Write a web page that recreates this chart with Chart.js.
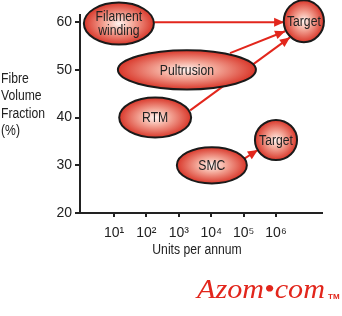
<!DOCTYPE html>
<html lang="en">
<head>
  <meta charset="UTF-8">
  <title>Fibre volume fraction vs units per annum</title>
  <script src="https://cdn.jsdelivr.net/npm/chart.js"></script>
  <style>
    html, body { margin: 0; padding: 0; background: #fff; }
    #box { width: 342px; height: 316px; }
  </style>
</head>
<body>
  <div id="box"><canvas id="grafico"></canvas></div>
  <script>
    // x values are log10(units per annum), y values are fibre volume fraction (%)
    const processLabels = ['Filament\nwinding', 'Target', 'Pultrusion', 'RTM', 'Target', 'SMC'];
    const processLogUnits = [1.15, 6.86, 3.25, 2.27, 6.0, 4.02];
    const processFraction = [59.7, 60.2, 50.0, 40.0, 35.3, 30.0];
    const processHalfWidth = [1.08, 0.62, 2.13, 1.11, 0.65, 1.08];   // in decades
    const processHalfHeight = [4.4, 4.4, 4.1, 4.2, 4.2, 3.8];        // in %

    const arrowFromX = [2.23, 4.58, 3.35, 4.95];
    const arrowFromY = [60.0, 53.5, 41.5, 31.1];
    const arrowToX = [6.25, 6.28, 6.43, 5.44];
    const arrowToY = [60.0, 58.1, 56.8, 33.2];

    const xTickValues = [1, 2, 3, 4, 5, 6];
    const yTickValues = [20, 30, 40, 50, 60];
    const supers = ['⁰', '¹', '²', '³', '⁴', '⁵', '⁶', '⁷'];

    const ink = '#222';
    const red = '#e2261c';
    const sans = '"Liberation Sans", Arial, sans-serif';

    // the original lettering is a narrow sans, so squeeze it a little
    function narrowText(ctx, t, x, y) {
      ctx.fillText(t, x, y, ctx.measureText(t).width * 0.87);
    }

    const arrowSets = arrowFromX.map((x0, i) => ({
      data: [{ x: x0, y: arrowFromY[i] }, { x: arrowToX[i], y: arrowToY[i] }],
      showLine: true,
      borderColor: red,
      backgroundColor: red,
      borderWidth: 2,
      pointRadius: 0
    }));

    const desenho = {
      id: 'desenho',
      afterDatasetsDraw(chart) {
        const ctx = chart.ctx;
        const sx = chart.scales.x, sy = chart.scales.y;

        // arrow heads
        arrowFromX.forEach((x0, i) => {
          const ax = sx.getPixelForValue(x0), ay = sy.getPixelForValue(arrowFromY[i]);
          const bx = sx.getPixelForValue(arrowToX[i]), by = sy.getPixelForValue(arrowToY[i]);
          const ang = Math.atan2(by - ay, bx - ax);
          ctx.save();
          ctx.translate(bx, by);
          ctx.rotate(ang);
          ctx.fillStyle = red;
          ctx.beginPath();
          ctx.moveTo(0, 0);
          ctx.lineTo(-10, -4.5);
          ctx.lineTo(-10, 4.5);
          ctx.closePath();
          ctx.fill();
          ctx.restore();
        });

        // process ellipses
        processLabels.forEach((lab, i) => {
          const cx = sx.getPixelForValue(processLogUnits[i]);
          const cy = sy.getPixelForValue(processFraction[i]);
          const rx = Math.abs(sx.getPixelForValue(processLogUnits[i] + processHalfWidth[i]) - cx);
          const ry = Math.abs(sy.getPixelForValue(processFraction[i] + processHalfHeight[i]) - cy);
          ctx.save();
          ctx.translate(cx, cy);
          ctx.scale(1, ry / rx);
          const g = ctx.createRadialGradient(0, 0, 0, 0, 0, rx);
          g.addColorStop(0, '#fff4f0');
          g.addColorStop(0.4, '#f4aa9b');
          g.addColorStop(1, '#d9372a');
          ctx.fillStyle = g;
          ctx.beginPath();
          ctx.arc(0, 0, rx, 0, Math.PI * 2);
          ctx.fill();
          ctx.restore();
          ctx.beginPath();
          ctx.ellipse(cx, cy, rx, ry, 0, 0, Math.PI * 2);
          ctx.lineWidth = 2;
          ctx.strokeStyle = '#1a1a1a';
          ctx.stroke();

          ctx.fillStyle = ink;
          ctx.font = '14px ' + sans;
          ctx.textAlign = 'center';
          ctx.textBaseline = 'middle';
          const lines = lab.split('\n');
          lines.forEach((t, k) => {
            narrowText(ctx, t, cx, cy + 1 + (k - (lines.length - 1) / 2) * 14);
          });
        });

        // axis titles
        ctx.fillStyle = ink;
        ctx.font = '14px ' + sans;
        ctx.textAlign = 'center';
        ctx.textBaseline = 'middle';
        narrowText(ctx, 'Units per annum', 197, sx.top + 37);
        ctx.textAlign = 'left';
        ['Fibre', 'Volume', 'Fraction', '(%)'].forEach((t, k) => {
          narrowText(ctx, t, 1, 79 + k * 17.5);
        });

        // logo
        ctx.save();
        ctx.fillStyle = red;
        ctx.font = 'italic 27px "Liberation Serif", serif';
        ctx.textAlign = 'left';
        ctx.textBaseline = 'alphabetic';
        const logo = 'Azom•com';
        const w = ctx.measureText(logo).width;
        ctx.translate(197, 298);
        ctx.scale(128 / w, 1);
        ctx.fillText(logo, 0, 0);
        ctx.restore();
        ctx.fillStyle = red;
        ctx.font = 'bold 8px ' + sans;
        ctx.textAlign = 'left';
        ctx.fillText('TM', 328, 297);
      }
    };

    new Chart(document.getElementById('grafico'), {
      type: 'scatter',
      data: { datasets: arrowSets },
      options: {
        responsive: true,
        maintainAspectRatio: false,
        animation: false,
        layout: { padding: { left: 0, top: 15, right: 20, bottom: 0 } },
        plugins: { legend: { display: false }, tooltip: { enabled: false } },
        scales: {
          x: {
            type: 'linear',
            min: -0.05,
            max: 7.42,
            afterFit(scale) { scale.height = 103; },
            afterBuildTicks(scale) { scale.ticks = xTickValues.map(v => ({ value: v })); },
            border: { color: ink, width: 2 },
            grid: { drawOnChartArea: false, tickLength: 4, color: ink, lineWidth: 2 },
            ticks: {
              color: ink,
              padding: 8,
              maxRotation: 0,
              font: { size: 14, family: sans },
              callback: v => '10' + supers[v]
            }
          },
          y: {
            min: 20,
            max: 61.5,
            afterFit(scale) { scale.width = 80; },
            afterBuildTicks(scale) { scale.ticks = yTickValues.map(v => ({ value: v })); },
            border: { color: ink, width: 2 },
            grid: { drawOnChartArea: false, tickLength: 5, color: ink, lineWidth: 2 },
            ticks: {
              color: ink,
              padding: 3,
              font: { size: 14, family: sans }
            }
          }
        }
      },
      plugins: [desenho]
    });
  </script>
</body>
</html>
